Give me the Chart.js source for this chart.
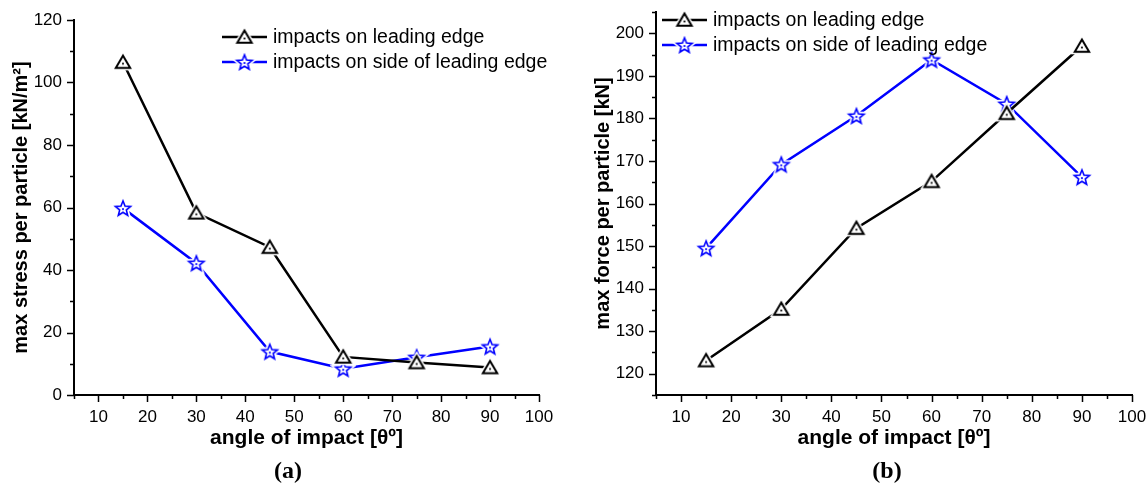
<!DOCTYPE html>
<html>
<head>
<meta charset="utf-8">
<script src="https://cdn.jsdelivr.net/npm/chart.js@4/dist/chart.umd.min.js"></script>
<style>
  html, body { margin: 0; padding: 0; background: #fff; }
  body { width: 1148px; height: 484px; position: relative; overflow: hidden; }
  canvas { position: absolute; top: 0; }
  #cA { left: 0; }
  #cB { left: 575px; }
  .tag { position: absolute; top: 456px; font: bold 24px "Liberation Serif", "Times New Roman", serif; color: #000; transform: translateX(-50%); line-height: 28px; }
</style>
</head>
<body>
<canvas id="cA" width="575" height="484"></canvas>
<canvas id="cB" width="573" height="484"></canvas>
<div class="tag" style="left:288px">(a)</div>
<div class="tag" style="left:887px">(b)</div>
<script>
// ---- data ----
const angles = [15, 30, 45, 60, 75, 90];
const seriesNames = ['impacts on leading edge', 'impacts on side of leading edge'];
const stressLeading = [106.5, 58.3, 47.3, 12.2, 10.4, 8.8];
const stressSide = [59.8, 42.2, 13.9, 8.4, 12.1, 15.5];
const forceLeading = [123.1, 135.2, 154.2, 165.2, 181.2, 197.0];
const forceSide = [149.5, 169.2, 180.6, 193.8, 183.4, 166.2];
const xTitle = 'angle of impact [θº]';
const yTitleA = 'max stress per particle [kN/m²]';
const yTitleB = 'max force per particle [kN]';

const BLACK = '#000000';
const BLUE = '#0000ff';
const FONT = '"Liberation Sans", Arial, sans-serif';

function makeMarker(kind, color) {
  const s = 26, c = document.createElement('canvas');
  c.width = s; c.height = s;
  const g = c.getContext('2d');
  g.translate(s / 2, s / 2);
  g.beginPath();
  let dotY = 0;
  if (kind === 'tri') {
    g.moveTo(0, -6.5); g.lineTo(7.2, 5.8); g.lineTo(-7.2, 5.8); g.closePath();
    dotY = 1.5;
  } else {
    const ro = 8, ri = 3.5;
    for (let i = 0; i < 10; i++) {
      const r = i % 2 === 0 ? ro : ri;
      const a = -Math.PI / 2 + i * Math.PI / 5;
      const px = r * Math.cos(a), py = r * Math.sin(a) + 0.8;
      if (i === 0) g.moveTo(px, py); else g.lineTo(px, py);
    }
    g.closePath();
    dotY = 1;
  }
  g.lineJoin = 'miter';
  g.strokeStyle = '#fff'; g.lineWidth = 5; g.stroke();
  g.fillStyle = '#fff'; g.fill();
  g.strokeStyle = color; g.lineWidth = kind === 'tri' ? 2 : 1.6; g.stroke();
  g.fillStyle = color;
  g.fillRect(-0.9, dotY - 0.9, 1.8, 1.8);
  return c;
}
const triMarker = makeMarker('tri', BLACK);
const starMarker = makeMarker('star', BLUE);

function pts(ys) { return angles.map((x, i) => ({ x: x, y: ys[i] })); }

function tickPlugin(majorY) {
  return {
    id: 'minorTicks',
    afterDraw(chart) {
      const ctx = chart.ctx;
      const xs = chart.scales.x, ys = chart.scales.y;
      const area = chart.chartArea;
      ctx.save();
      ctx.strokeStyle = '#000';
      ctx.lineWidth = 1.5;
      ctx.beginPath();
      xs.ticks.forEach(t => {
        const px = Math.round(xs.getPixelForValue(t.value)) + 0.5;
        const len = (t.value % 10 === 0) ? 7 : 4;
        ctx.moveTo(px, area.bottom); ctx.lineTo(px, area.bottom + len);
      });
      ys.ticks.forEach(t => {
        const py = Math.round(ys.getPixelForValue(t.value)) + 0.5;
        const len = (t.value % majorY === 0) ? 7 : 4;
        ctx.moveTo(area.left, py); ctx.lineTo(area.left - len, py);
      });
      ctx.stroke();
      ctx.restore();
    }
  };
}

function legendPlugin(lx0, lx1, tx, rows) {
  return {
    id: 'customLegend',
    afterDraw(chart) {
      const ctx = chart.ctx;
      ctx.save();
      chart.data.datasets.forEach((ds, i) => {
        const y = rows[i];
        ctx.strokeStyle = ds.borderColor;
        ctx.lineWidth = 2.5;
        ctx.beginPath(); ctx.moveTo(lx0, y); ctx.lineTo(lx1, y); ctx.stroke();
        const m = ds.pointStyle;
        ctx.drawImage(m, (lx0 + lx1) / 2 - m.width / 2, y - m.height / 2);
        ctx.fillStyle = '#000';
        ctx.font = '19.5px ' + FONT;
        ctx.textBaseline = 'middle';
        ctx.textAlign = 'left';
        ctx.fillText(ds.label, tx, y + 1);
      });
      ctx.restore();
    }
  };
}

function makeChart(id, cfg) {
  const datasets = [
    { label: seriesNames[0], data: pts(cfg.lead), borderColor: BLACK, backgroundColor: BLACK,
      borderWidth: 2.5, pointStyle: triMarker, pointRadius: 7, pointHoverRadius: 7, tension: 0 },
    { label: seriesNames[1], data: pts(cfg.side), borderColor: BLUE, backgroundColor: BLUE,
      borderWidth: 2.5, pointStyle: starMarker, pointRadius: 7, pointHoverRadius: 7, tension: 0 }
  ];
  return new Chart(document.getElementById(id), {
    type: 'line',
    data: { datasets },
    options: {
      responsive: false,
      animation: false,
      devicePixelRatio: 1,
      layout: { padding: { left: 0, right: cfg.padRight, top: cfg.padTop, bottom: 0 } },
      plugins: { legend: { display: false }, tooltip: { enabled: false } },
      scales: {
        x: {
          type: 'linear', min: 5, max: 100,
          grid: { display: false, drawTicks: false },
          border: { display: true, color: '#000', width: 2 },
          ticks: { stepSize: 5, autoSkip: false, maxRotation: 0, padding: 12, color: '#000',
            font: { family: FONT, size: 17 },
            callback: v => (v % 10 === 0 ? String(v) : '') },
          title: { display: true, text: xTitle, color: '#000',
            font: { family: FONT, size: 21, weight: 'bold' }, padding: { top: 0, bottom: 33 } },
          afterFit: s => { s.height = 89; s.paddingLeft = 0; s.paddingRight = 0; }
        },
        y: {
          type: 'linear', min: cfg.yMin, max: cfg.yMax,
          grid: { display: false, drawTicks: false },
          border: { display: true, color: '#000', width: 2 },
          ticks: { stepSize: cfg.yStep, autoSkip: false, padding: 12, color: '#000',
            font: { family: FONT, size: 17 },
            callback: v => (v % cfg.yMajor === 0 ? String(v) : '') },
          title: { display: true, text: cfg.yTitle, color: '#000',
            font: { family: FONT, size: 20, weight: 'bold' }, padding: { top: cfg.yTitlePad, bottom: 0 } },
          afterFit: s => { s.width = cfg.yWidth; s.paddingTop = 0; s.paddingBottom = 0; }
        }
      }
    },
    plugins: [tickPlugin(cfg.yMajor), legendPlugin(cfg.lx0, cfg.lx1, cfg.tx, cfg.rows)]
  });
}

makeChart('cA', {
  lead: stressLeading, side: stressSide,
  yMin: 0, yMax: 120, yStep: 10, yMajor: 20, yTitle: yTitleA,
  yWidth: 74, yTitlePad: 9, padRight: 36, padTop: 20,
  lx0: 222, lx1: 267, tx: 273, rows: [37, 62]
});
makeChart('cB', {
  lead: forceLeading, side: forceSide,
  yMin: 115, yMax: 205, yStep: 5, yMajor: 10, yTitle: yTitleB,
  yWidth: 81, yTitlePad: 16, padRight: 16, padTop: 12,
  lx0: 87, lx1: 132, tx: 138, rows: [20, 45]
});
</script>
</body>
</html>
